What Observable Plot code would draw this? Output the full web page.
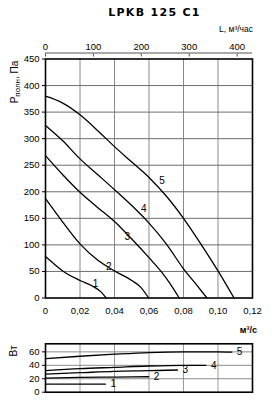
<!DOCTYPE html>
<html><head><meta charset="utf-8">
<script src="https://cdn.jsdelivr.net/npm/d3@7"></script>
<script src="https://cdn.jsdelivr.net/npm/@observablehq/plot@0.6"></script>
<style>
body{margin:0;background:#fff;}
#wrap{position:relative;width:272px;height:402px;overflow:hidden;background:#fff;}
#wrap > div, #wrap > svg{position:absolute;left:0;}
</style></head><body>
<div id="wrap">
  <div id="main" style="top:0"></div>
  <div id="power" style="top:340px"></div>
</div>
<script>
// ---- data ----
const title = "LPKB 125 C1";
const qTicks = [0, 0.02, 0.04, 0.06, 0.08, 0.10, 0.12];   // m³/s
const pTicks = [0, 50, 100, 150, 200, 250, 300, 350, 400, 450]; // Pa
const lTicks = [0, 100, 200, 300, 400];                     // m³/h
const wTicks = [0, 20, 40, 60];                             // W
const curveNames = ["1", "2", "3", "4", "5"];

// pressure curves (Q m³/s, P Pa)
const q1 = [0, 0.005, 0.01, 0.02, 0.028, 0.032, 0.0352];
const p1 = [78, 64, 51, 33, 21, 12, 0];
const q2 = [0, 0.005, 0.01, 0.02, 0.03, 0.04, 0.05, 0.055, 0.0598];
const p2 = [187, 165, 143, 102, 72, 51, 33, 21, 0];
const q3 = [0, 0.01, 0.02, 0.03, 0.04, 0.05, 0.06, 0.067, 0.072, 0.0775];
const p3 = [268, 232, 199, 171, 144, 111, 76, 50, 28, 0];
const q4 = [0, 0.01, 0.02, 0.03, 0.04, 0.05, 0.06, 0.07, 0.08, 0.087, 0.0936];
const p4 = [325, 296, 262, 233, 204, 174, 141, 102, 55, 27, 0];
const q5 = [0, 0.01, 0.02, 0.03, 0.04, 0.05, 0.06, 0.07, 0.08, 0.09, 0.10, 0.1093];
const p5 = [380, 367, 345, 316, 285, 256, 227, 192, 150, 102, 51, 0];

// label anchors on pressure chart (Q, P)
const labQ = [0.029, 0.0367, 0.0474, 0.057, 0.0675];
const labP = [27, 58, 116, 168, 220];

// power curves (Q m³/s, W)
const wq1 = [0, 0.0348];
const w1 = [12, 12];
const wq2 = [0, 0.02, 0.04, 0.0598];
const w2 = [21, 22, 22.5, 23];
const wq3 = [0, 0.02, 0.04, 0.06, 0.0765];
const w3 = [27, 29, 31, 32, 33];
const wq4 = [0, 0.02, 0.04, 0.06, 0.08, 0.093];
const w4 = [32, 35, 37, 39, 40, 40];
const wq5 = [0, 0.02, 0.04, 0.06, 0.08, 0.10, 0.108];
const w5 = [50, 53.5, 56.5, 59, 60, 60, 59.5];

// ---- build tables ----
const pq = [q1, q2, q3, q4, q5], pp = [p1, p2, p3, p4, p5];
const pressRows = curveNames.flatMap((c, i) => pq[i].map((q, j) => ({curve: c, q, p: pp[i][j]})));
const labelRows = curveNames.map((c, i) => ({curve: c, q: labQ[i], p: labP[i]}));
const wq = [wq1, wq2, wq3, wq4, wq5], ww = [w1, w2, w3, w4, w5];
const powRows = curveNames.flatMap((c, i) => wq[i].map((q, j) => ({curve: c, q, w: ww[i][j]})));
const powEnds = curveNames.map((c, i) => ({curve: c, q: wq[i][wq[i].length - 1], w: ww[i][ww[i].length - 1]}));

const fmtQ = d => d === 0 ? "0" : d.toFixed(2).replace(".", ",");
const font = "'Liberation Sans', Arial, sans-serif";
const inner = v => v.slice(1, -1);

const main = Plot.plot({
  width: 272, height: 340,
  marginLeft: 45, marginRight: 20, marginTop: 58.5, marginBottom: 42.5,
  style: {fontFamily: font, fontSize: "9.5px", color: "#000", background: "transparent"},
  x: {domain: [0, 0.12]},
  y: {domain: [0, 450]},
  marks: [
    Plot.gridX(inner(qTicks), {stroke: "#8a8a8a", strokeOpacity: 1}),
    Plot.gridY(inner(pTicks), {stroke: "#6e6e6e", strokeOpacity: 1}),
    Plot.frame({stroke: "#000", strokeWidth: 1.6}),
    Plot.axisY(pTicks, {tickSize: 3, tickPadding: 3, tickFormat: d => d, label: null}),
    Plot.axisX(qTicks, {anchor: "bottom", tickSize: 0, tickPadding: 9, tickFormat: fmtQ, label: null}),
    Plot.axisX(lTicks.map(l => l / 3600), {anchor: "top", tickSize: -3, tickPadding: 6, dy: -6, stroke: "#555",
      tickFormat: d => String(Math.round(d * 3600)), label: null}),
    Plot.ruleY([450], {dy: -6, stroke: "#555"}),
    Plot.line(pressRows, {x: "q", y: "p", z: "curve", curve: "monotone-x", stroke: "#000", strokeWidth: 1.3}),
    Plot.text(labelRows, {x: "q", y: "p", text: "curve", fontSize: 10, fill: "#000"})
  ]
});
document.getElementById("main").append(main);

const pw = Plot.plot({
  width: 272, height: 62,
  marginLeft: 45, marginRight: 20, marginTop: 3.3, marginBottom: 10.3,
  style: {fontFamily: font, fontSize: "9.5px", color: "#000", background: "transparent"},
  x: {domain: [0, 0.12], axis: null},
  y: {domain: [0, 72]},
  marks: [
    Plot.gridX(inner(qTicks), {stroke: "#9a9a9a", strokeOpacity: 1}),
    Plot.gridY(wTicks.slice(1), {stroke: "#8a8a8a", strokeOpacity: 1}),
    Plot.frame({stroke: "#000", strokeWidth: 1.6}),
    Plot.axisY(wTicks, {tickSize: 3, tickPadding: 3, label: null}),
    Plot.line(powRows, {x: "q", y: "w", z: "curve", curve: "monotone-x", stroke: "#000", strokeWidth: 1.3}),
    Plot.text(powEnds, {x: "q", y: "w", text: "curve", dx: 5, textAnchor: "start", fontSize: 10, fill: "#000"})
  ]
});
document.getElementById("power").append(pw);

// ---- overlay texts ----
const svg = d3.select("#wrap").append("svg").attr("width", 272).attr("height", 402)
  .style("top", "0px").style("pointer-events", "none")
  .attr("font-family", font).attr("fill", "#000");
svg.append("text").attr("x", 154.5).attr("y", 15.5).attr("text-anchor", "middle")
  .attr("font-family", "'DejaVu Sans', sans-serif").attr("font-weight", "bold")
  .attr("font-size", 11).attr("letter-spacing", 1.3).text(title);
svg.append("text").attr("x", 253).attr("y", 31.5).attr("text-anchor", "end")
  .attr("font-size", 8.5).text("L, м³/час");
const yl = svg.append("text").attr("transform", "translate(18,82) rotate(-90)")
  .attr("text-anchor", "middle").attr("font-size", 10);
yl.append("tspan").text("Р");
yl.append("tspan").attr("font-size", 8).attr("dy", 1.5).text("полн");
yl.append("tspan").attr("dy", -1.5).text(", Па");
svg.append("text").attr("x", 257).attr("y", 332.5).attr("text-anchor", "end")
  .attr("font-size", 9).attr("font-weight", "bold").text("м³/с");
svg.append("text").attr("transform", "translate(17,351) rotate(-90)")
  .attr("text-anchor", "middle").attr("font-size", 10).text("Вт");
</script>
</body></html>
